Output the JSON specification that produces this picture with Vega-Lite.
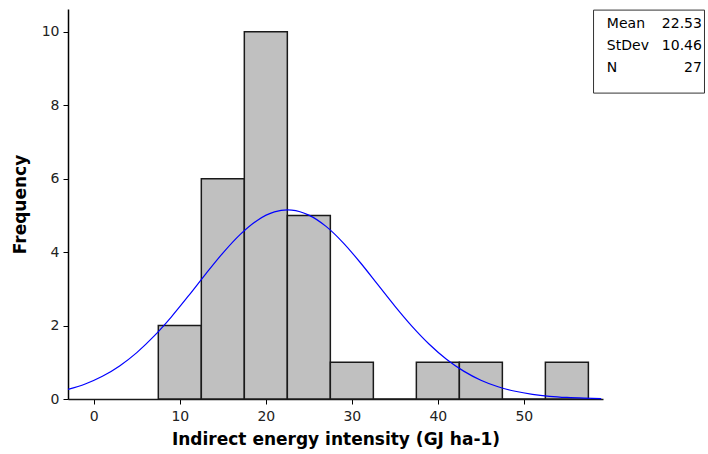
{
  "$schema": "https://vega.github.io/schema/vega-lite/v6.json",
  "width": 535,
  "height": 390,
  "autosize": {"type": "none"},
  "padding": {"left": 68, "top": 9, "right": 105, "bottom": 55},
  "background": "white",
  "config": {"view": {"stroke": null}, "font": "DejaVu Sans"},
  "datasets": {
    "bins": [
      {"bin_start": 7.5, "bin_end": 12.5, "count": 2},
      {"bin_start": 12.5, "bin_end": 17.5, "count": 6},
      {"bin_start": 17.5, "bin_end": 22.5, "count": 10},
      {"bin_start": 22.5, "bin_end": 27.5, "count": 5},
      {"bin_start": 27.5, "bin_end": 32.5, "count": 1},
      {"bin_start": 32.5, "bin_end": 37.5, "count": 0},
      {"bin_start": 37.5, "bin_end": 42.5, "count": 1},
      {"bin_start": 42.5, "bin_end": 47.5, "count": 1},
      {"bin_start": 47.5, "bin_end": 52.5, "count": 0},
      {"bin_start": 52.5, "bin_end": 57.5, "count": 1}
    ],
    "curve": [
      {"x": -3, "y": 0.262}, {"x": -1, "y": 0.41}, {"x": 1, "y": 0.619}, {"x": 3, "y": 0.901},
      {"x": 5, "y": 1.264}, {"x": 7, "y": 1.71}, {"x": 9, "y": 2.231}, {"x": 11, "y": 2.805},
      {"x": 13, "y": 3.4}, {"x": 15, "y": 3.974}, {"x": 17, "y": 4.477}, {"x": 19, "y": 4.864},
      {"x": 21, "y": 5.094}, {"x": 22.53, "y": 5.149}, {"x": 23, "y": 5.144}, {"x": 25, "y": 5.007},
      {"x": 27, "y": 4.7}, {"x": 29, "y": 4.252}, {"x": 31, "y": 3.71}, {"x": 33, "y": 3.12},
      {"x": 35, "y": 2.53}, {"x": 37, "y": 1.978}, {"x": 39, "y": 1.491}, {"x": 41, "y": 1.083},
      {"x": 43, "y": 0.759}, {"x": 45, "y": 0.512}, {"x": 47, "y": 0.334}, {"x": 49, "y": 0.21},
      {"x": 51, "y": 0.127}, {"x": 53, "y": 0.074}, {"x": 55, "y": 0.042}, {"x": 57, "y": 0.023},
      {"x": 59, "y": 0.012}
    ],
    "stats": [
      {"stat": "Mean", "value": "22.53"},
      {"stat": "StDev", "value": "10.46"},
      {"stat": "N", "value": "27"}
    ]
  },
  "layer": [
    {
      "layer": [
        {
          "data": {"name": "bins"},
          "mark": {"type": "rect", "fill": "#c0c0c0", "stroke": "#1a1a1a", "strokeWidth": 1.5},
          "encoding": {
            "x": {
              "field": "bin_start", "type": "quantitative",
              "scale": {"domain": [-3, 59.2], "nice": false, "zero": false},
              "axis": {
                "values": [0, 10, 20, 30, 40, 50], "grid": false,
                "title": "Indirect energy intensity (GJ ha-1)",
                "domainColor": "#1a1a1a", "domainWidth": 1.5, "tickColor": "#000", "tickSize": 5,
                "labelFontSize": 14, "labelColor": "#222", "labelPadding": 5,
                "titleFontSize": 17, "titleFontWeight": "bold", "titleColor": "#000",
                "titlePadding": 8
              }
            },
            "x2": {"field": "bin_end"},
            "y": {
              "field": "count", "type": "quantitative",
              "scale": {"domain": [0, 10.62], "nice": false},
              "axis": {
                "values": [0, 2, 4, 6, 8, 10], "grid": false, "title": "Frequency",
                "domainColor": "#000", "domainWidth": 1.5, "tickColor": "#000", "tickSize": 5,
                "labelFontSize": 14, "labelColor": "#222", "labelPadding": 4,
                "titleFontSize": 17, "titleFontWeight": "bold", "titleColor": "#000", "titlePadding": 12
              }
            },
            "y2": {"datum": 0}
          }
        },
        {
          "data": {"name": "curve"},
          "mark": {"type": "line", "color": "#0000ff", "strokeWidth": 1.2, "interpolate": "monotone"},
          "encoding": {
            "x": {"field": "x", "type": "quantitative"},
            "y": {"field": "y", "type": "quantitative"}
          }
        },
        {
          "data": {"values": [{}]},
          "mark": {"type": "rect", "fill": "white", "stroke": "#333", "strokeWidth": 1},
          "encoding": {
            "x": {"datum": 58.1},
            "x2": {"datum": 71},
            "y": {"datum": 10.59},
            "y2": {"datum": 8.33}
          }
        }
      ]
    },
    {
      "data": {"name": "stats"},
      "layer": [
        {
          "mark": {"type": "text", "align": "left", "baseline": "middle", "fontSize": 14, "color": "#000"},
          "encoding": {
            "x": {"datum": 59.65},
            "y": {"field": "stat", "type": "ordinal", "scale": {"type": "point", "domain": ["Mean", "StDev", "N"], "range": [15, 59], "padding": 0}, "axis": null},
            "text": {"field": "stat"}
          }
        },
        {
          "mark": {"type": "text", "align": "right", "baseline": "middle", "fontSize": 14, "color": "#000"},
          "encoding": {
            "x": {"datum": 70.7},
            "y": {"field": "stat", "type": "ordinal", "scale": {"type": "point", "domain": ["Mean", "StDev", "N"], "range": [15, 59], "padding": 0}, "axis": null},
            "text": {"field": "value"}
          }
        }
      ]
    }
  ],
  "resolve": {"scale": {"y": "independent"}}
}
